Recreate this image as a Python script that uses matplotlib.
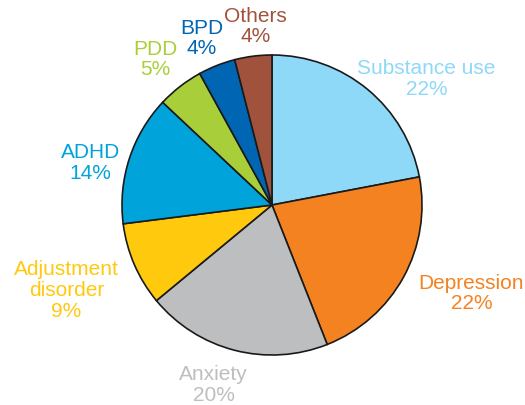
import matplotlib
matplotlib.use("Agg")
import matplotlib.pyplot as plt

categories = ["Substance use", "Depression", "Anxiety", "Adjustment\ndisorder",
              "ADHD", "PDD", "BPD", "Others"]
shares = [22, 22, 20, 9, 14, 5, 4, 4]
colors = ["#8ED8F8", "#F58220", "#BCBEC0", "#FFC90E",
          "#00A3DA", "#A8CF3A", "#0066B3", "#A0523D"]
# label centres in pie-radius units (pie centred at 0, radius 1)
label_pos = [(1.03, 0.84), (1.33, -0.59), (-0.39, -1.20), (-1.37, -0.57),
             (-1.21, 0.28), (-0.78, 0.97), (-0.47, 1.11), (-0.11, 1.19)]

plt.rcParams["font.family"] = ["Liberation Sans", "DejaVu Sans"]

fig = plt.figure(figsize=(5.25, 4.05), dpi=100)
ax = fig.add_axes([0, 0, 1, 1])
cx, cy, r = 272, 205, 150

ax.pie(shares, colors=colors, startangle=90, counterclock=False, radius=1,
       wedgeprops=dict(edgecolor="#1a1a1a", linewidth=1.2))
ax.set_xlim(-cx / r, (525 - cx) / r)
ax.set_ylim(-(405 - cy) / r, cy / r)
ax.set_aspect("equal")
ax.axis("off")

for name, val, col, (x, y) in zip(categories, shares, colors, label_pos):
    ax.text(x, y, f"{name}\n{val}%", color=col, fontsize=15, ha="center",
            va="center", linespacing=1.12)

fig.savefig("out.png", dpi=100)
